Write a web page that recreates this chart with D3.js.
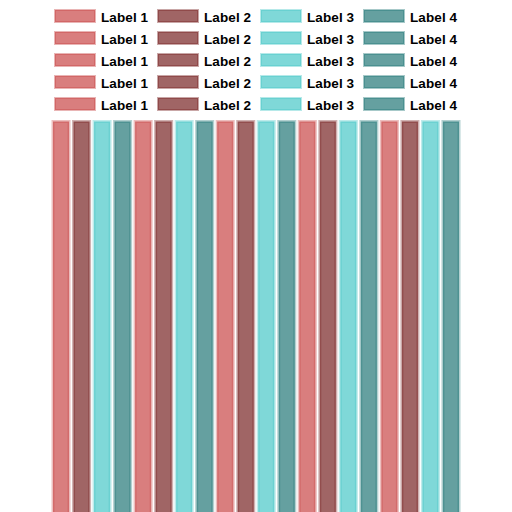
<!DOCTYPE html>
<html>
<head>
<meta charset="utf-8">
<script src="https://cdn.jsdelivr.net/npm/d3@7"></script>
<style>
html,body{margin:0;padding:0;background:#fff;}
svg{display:block;}
</style>
</head>
<body>
<svg id="chart" width="512" height="512"></svg>
<script>
const groups = ["G1", "G2", "G3", "G4", "G5"];
const seriesNames = ["Label 1", "Label 2", "Label 3", "Label 4"];
const seriesColors = ["#c94747", "#772323", "#48c7c7", "#247777"];
const values = [
  [100, 100, 100, 100],
  [100, 100, 100, 100],
  [100, 100, 100, 100],
  [100, 100, 100, 100],
  [100, 100, 100, 100]
];

const items = [];
groups.forEach((g, gi) => seriesNames.forEach((s, si) => {
  items.push({key: g + "-" + si, series: s, si: si, value: values[gi][si]});
}));

const svg = d3.select("#chart");

const x = d3.scaleBand().domain(items.map(d => d.key)).range([52, 460]).paddingInner(0.12).paddingOuter(0);
const y = d3.scaleLinear().domain([0, 100]).range([518, 121.5]);
const color = d3.scaleOrdinal().domain(seriesNames).range(seriesColors);

svg.append("g").selectAll("rect").data(items).join("rect")
  .attr("x", d => x(d.key) + 1)
  .attr("width", x.bandwidth() - 2)
  .attr("y", d => y(d.value))
  .attr("height", d => y(0) - y(d.value))
  .attr("fill", d => color(d.series))
  .attr("fill-opacity", 0.7)
  .attr("stroke", d => color(d.series))
  .attr("stroke-opacity", 0.35)
  .attr("stroke-width", 3);

// legend
const legend = svg.append("g");
const lg = legend.selectAll("g").data(items).join("g")
  .attr("transform", (d, i) => `translate(${55 + (i % 4) * 103},${10 + Math.floor(i / 4) * 22})`);
lg.append("rect")
  .attr("width", 40).attr("height", 12)
  .attr("fill", d => color(d.series))
  .attr("fill-opacity", 0.7)
  .attr("stroke", d => color(d.series))
  .attr("stroke-opacity", 0.4)
  .attr("stroke-width", 2);
lg.append("text")
  .attr("x", 46).attr("y", 11.5)
  .attr("font-family", "Liberation Sans, Arial, sans-serif")
  .attr("font-weight", "bold")
  .attr("font-size", 13.5)
  .attr("letter-spacing", 0.1)
  .attr("fill", "#000")
  .text(d => d.series);
</script>
</body>
</html>
